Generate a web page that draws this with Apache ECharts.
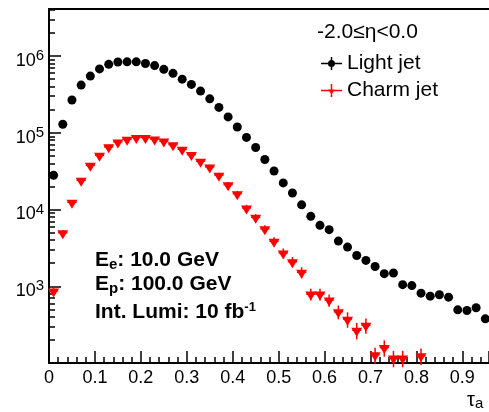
<!DOCTYPE html>
<html>
<head>
<meta charset="utf-8">
<script src="https://cdn.jsdelivr.net/npm/echarts@6/dist/echarts.min.js"></script>
<style>
html, body { margin: 0; padding: 0; background: #fff; }
#chart { width: 489px; height: 412px; }
</style>
</head>
<body>
<div id="chart"></div>
<script>
// bin centres (tau_a) and counts
const tauLight = [0.01, 0.03, 0.05, 0.07, 0.09, 0.11, 0.13, 0.15, 0.17, 0.19,
    0.21, 0.23, 0.25, 0.27, 0.29, 0.31, 0.33, 0.35, 0.37, 0.39,
    0.41, 0.43, 0.45, 0.47, 0.49, 0.51, 0.53, 0.55, 0.57, 0.59,
    0.61, 0.63, 0.65, 0.67, 0.69, 0.71, 0.73, 0.75, 0.77, 0.79,
    0.81, 0.83, 0.85, 0.87, 0.89, 0.91, 0.93, 0.95];
const lightCounts = [28000, 129000, 267000, 418000, 548000, 680000, 780000, 835000, 840000, 840000,
    800000, 750000, 670000, 595000, 500000, 427000, 349000, 277000, 214000, 161000,
    119000, 87000, 64300, 44800, 31800, 22200, 16400, 11500, 8150, 6220,
    5460, 3880, 3240, 2520, 2170, 1810, 1460, 1490, 1050, 1020,
    813, 743, 774, 721, 493, 483, 524, 376];

const tauCharm = [0.01, 0.03, 0.05, 0.07, 0.09, 0.11, 0.13, 0.15, 0.17, 0.19,
    0.21, 0.23, 0.25, 0.27, 0.29, 0.31, 0.33, 0.35, 0.37, 0.39,
    0.41, 0.43, 0.45, 0.47, 0.49, 0.51, 0.53, 0.55, 0.57, 0.59,
    0.61, 0.63, 0.65, 0.67, 0.69, 0.71, 0.73, 0.75, 0.77, 0.81];
const charmCounts = [870, 4970, 12400, 24000, 37800, 51000, 65500, 76000, 82500, 87000,
    87000, 83000, 78000, 70000, 61000, 52000, 42600, 35900, 28000, 21100,
    16100, 10500, 7900, 5600, 3860, 2720, 2090, 1520, 791, 791,
    661, 465, 373, 268, 311, 128, 159, 116, 116, 124];
const charmErrors = [90, 400, 900, 1700, 2600, 3400, 4200, 4800, 5100, 5300,
    5300, 5100, 4800, 4400, 3900, 3400, 2900, 2500, 2100, 1700,
    1400, 1000, 800, 620, 480, 380, 310, 250, 140, 140,
    120, 95, 85, 65, 70, 30, 38, 28, 28, 30];

const yMajorTicks = [1e3, 1e4, 1e5, 1e6];
const yMinorTicks = [200, 300, 400, 500, 600, 700, 800, 900,
    2000, 3000, 4000, 5000, 6000, 7000, 8000, 9000,
    20000, 30000, 40000, 50000, 60000, 70000, 80000, 90000,
    200000, 300000, 400000, 500000, 600000, 700000, 800000, 900000,
    2000000, 3000000, 4000000];

const etaLabel = '-2.0≤η<0.0';
const seriesNames = ['Light jet', 'Charm jet'];

const FONT = '"Liberation Sans", Arial, Helvetica, sans-serif';
const RED = '#ff0000';

const chart = echarts.init(document.getElementById('chart'));

const lightData = tauLight.map((t, i) => [t, lightCounts[i]]);
const charmData = tauCharm.map((t, i) => [t, charmCounts[i]]);
const charmErrData = tauCharm.map((t, i) => [t, charmCounts[i], charmErrors[i]]);

// legend icons: error-bar cross with marker
const lightIcon = 'path://M0,5.75h21v1.5h-21Z M9.75,0h1.5v13h-1.5Z M7,6.5a3.5,3.5 0 1,1 7,0a3.5,3.5 0 1,1 -7,0Z';
const charmIcon = 'path://M0,5.75h21v1.5h-21Z M9.75,0h1.5v13h-1.5Z M7,5.5L14,5.5L10.5,10.5Z';

const yAxisBase = {
    type: 'log',
    logBase: 10,
    min: 100,
    max: 4.1e6,
    splitLine: { show: false },
    minorSplitLine: { show: false }
};

const xAxisBase = {
    type: 'value',
    min: 0,
    max: 0.958,
    splitLine: { show: false }
};

const boldRich = {
    b: { fontFamily: FONT, fontWeight: 'bold', fontSize: 21, lineHeight: 24, fill: '#000' },
    sub: { fontFamily: FONT, fontWeight: 'bold', fontSize: 15, lineHeight: 14, verticalAlign: 'bottom', fill: '#000' },
    sup: { fontFamily: FONT, fontWeight: 'bold', fontSize: 13, lineHeight: 20, verticalAlign: 'top', fill: '#000' }
};

const option = {
    backgroundColor: '#fff',
    animation: false,
    grid: { left: 49, right: 0, top: 9, bottom: 49, outerBoundsMode: 'none' },
    legend: {
        data: [
            { name: seriesNames[0], icon: lightIcon },
            { name: seriesNames[1], icon: charmIcon }
        ],
        orient: 'vertical',
        left: 316,
        top: 48,
        itemWidth: 21,
        itemHeight: 13,
        itemGap: 6,
        selectedMode: false,
        textStyle: { fontFamily: FONT, fontSize: 21, color: '#000', lineHeight: 13 }
    },
    xAxis: [
        Object.assign({}, xAxisBase, {
            position: 'bottom',
            interval: 0.1,
            axisLine: { show: true, onZero: false, lineStyle: { color: '#000', width: 2 } },
            axisTick: { show: true, inside: true, length: 12, lineStyle: { color: '#000', width: 1.5 } },
            minorTick: { show: true, splitNumber: 5, length: 6, lineStyle: { color: '#000', width: 1.5 } },
            axisLabel: {
                margin: 6,
                color: '#000',
                fontFamily: FONT,
                fontSize: 18,
                showMaxLabel: false,
                formatter: v => (v === 0 ? '0' : v.toFixed(1))
            }
        }),
        Object.assign({}, xAxisBase, {
            position: 'top',
            axisLine: { show: true, onZero: false, lineStyle: { color: '#000', width: 2 } },
            axisTick: { show: false },
            axisLabel: { show: false }
        })
    ],
    yAxis: [
        Object.assign({}, yAxisBase, {
            position: 'left',
            axisLine: { show: true, lineStyle: { color: '#000', width: 2 } },
            axisTick: { show: true, inside: true, length: 12, customValues: yMajorTicks, lineStyle: { color: '#000', width: 1.5 } },
            axisLabel: {
                customValues: yMajorTicks,
                margin: 5,
                color: '#000',
                fontFamily: FONT,
                formatter: v => '{b|10}{s|' + Math.round(Math.log10(v)) + '}',
                rich: {
                    b: { fontFamily: FONT, fontSize: 18, color: '#000', padding: [10, 0, 0, 0] },
                    s: { fontFamily: FONT, fontSize: 15, color: '#000' }
                }
            }
        }),
        Object.assign({}, yAxisBase, {
            position: 'left',
            axisLine: { show: false },
            axisTick: { show: true, inside: true, length: 6, customValues: yMinorTicks, lineStyle: { color: '#000', width: 1.5 } },
            axisLabel: { show: false }
        })
    ],
    series: [
        {
            name: seriesNames[0],
            type: 'scatter',
            data: lightData,
            symbol: 'circle',
            symbolSize: 9,
            itemStyle: { color: '#000', opacity: 1 },
            z: 3
        },
        {
            name: 'charmErr',
            type: 'custom',
            data: charmErrData,
            z: 2,
            renderItem: (params, api) => {
                const x = api.value(0), y = api.value(1), e = api.value(2);
                const l = api.coord([x - 0.01, y]);
                const r = api.coord([x + 0.01, y]);
                const t = api.coord([x, y + e]);
                const b = api.coord([x, Math.max(y - e, 1)]);
                const st = { stroke: RED, lineWidth: 1.5 };
                return {
                    type: 'group',
                    children: [
                        { type: 'line', shape: { x1: l[0], y1: l[1], x2: r[0], y2: r[1] }, style: st },
                        { type: 'line', shape: { x1: t[0], y1: t[1], x2: b[0], y2: b[1] }, style: st }
                    ]
                };
            }
        },
        {
            name: seriesNames[1],
            type: 'scatter',
            data: charmData,
            symbol: 'triangle',
            symbolRotate: 180,
            symbolSize: [11, 9],
            symbolOffset: [0, 2],
            itemStyle: { color: RED, opacity: 1 },
            z: 3
        }
    ],
    graphic: [
        {
            type: 'text', left: 317, top: 22,
            style: { text: etaLabel, font: '21px ' + FONT, fill: '#000' }
        },
        {
            type: 'text', x: 95, y: 248,
            style: { text: '{b|E}{sub|e}{b|: 10.0 GeV}', verticalAlign: 'top', rich: boldRich }
        },
        {
            type: 'text', x: 95, y: 272.5,
            style: { text: '{b|E}{sub|p}{b|: 100.0 GeV}', verticalAlign: 'top', rich: boldRich }
        },
        {
            type: 'text', x: 95, y: 300.5,
            style: { text: '{b|Int. Lumi: 10 fb}{sup|-1}', verticalAlign: 'top', rich: boldRich }
        },
        {
            type: 'text', x: 467, y: 389,
            style: {
                text: '{t|τ}{s|a}',
                verticalAlign: 'top',
                rich: {
                    t: { fontFamily: FONT, fontSize: 20, lineHeight: 22, fill: '#000' },
                    s: { fontFamily: FONT, fontSize: 15, lineHeight: 12, verticalAlign: 'bottom', fill: '#000' }
                }
            }
        }
    ]
};

chart.setOption(option);
</script>
</body>
</html>
